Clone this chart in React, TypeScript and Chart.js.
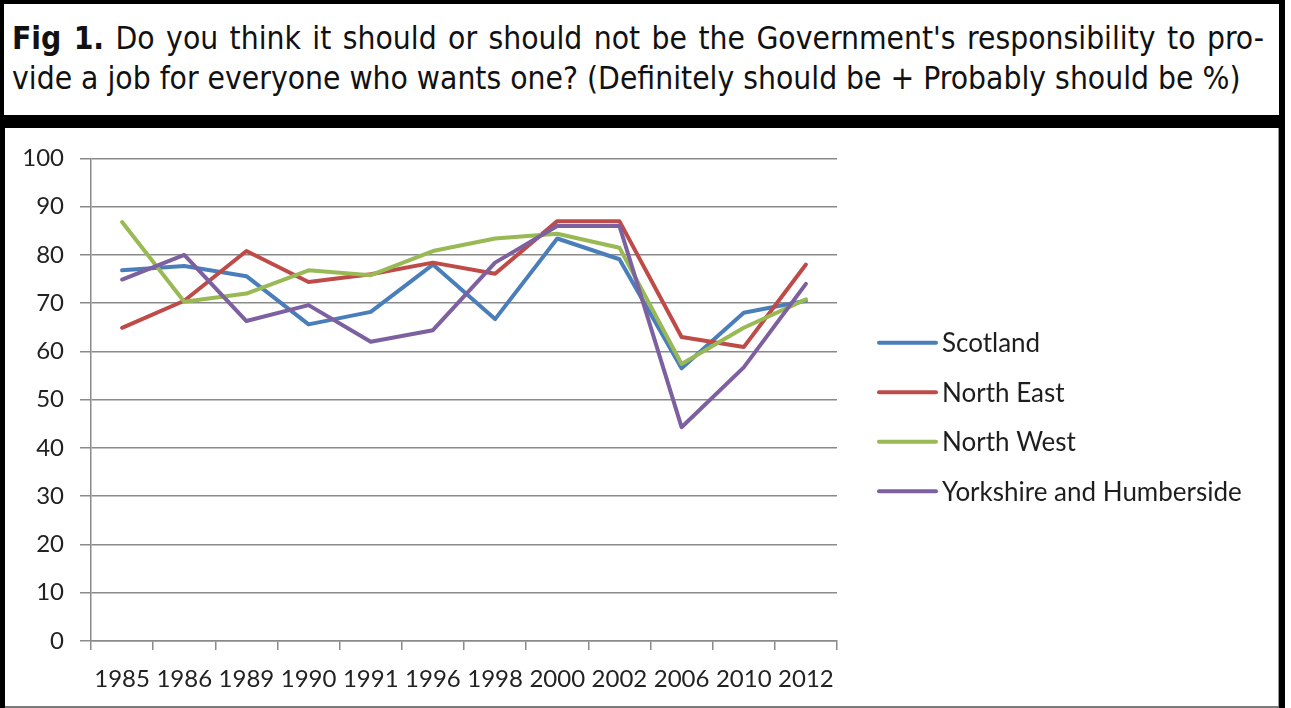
import React, { useEffect, useRef } from "react";
import { Chart, registerables } from "chart.js";

Chart.register(...registerables);

const categories = ["1985", "1986", "1989", "1990", "1991", "1996", "1998", "2000", "2002", "2006", "2010", "2012"];
const scotland = [76.8, 77.7, 75.6, 65.6, 68.2, 78.0, 66.7, 83.4, 79.1, 56.5, 68.0, 70.5];
const northEast = [64.9, 70.5, 80.8, 74.4, 76.0, 78.4, 76.1, 87.0, 87.0, 63.0, 60.9, 78.0];
const northWest = [86.8, 70.3, 72.0, 76.8, 75.8, 80.8, 83.4, 84.4, 81.5, 57.4, 64.9, 70.8];
const yorkshire = [74.9, 80.0, 66.3, 69.6, 62.0, 64.4, 78.4, 86.0, 86.0, 44.3, 56.7, 74.0];
const seriesNames = ["Scotland", "North East", "North West", "Yorkshire and Humberside"];
const seriesColors = ["#4A7EBB", "#BE4B48", "#98B954", "#7D60A0"];
const yTicks = [0, 10, 20, 30, 40, 50, 60, 70, 80, 90, 100];

const titleBold = "Fig 1.";
const titleLine1 = " Do you think it should or should not be the Government's responsibility to pro-";
const titleLine2 = "vide a job for everyone who wants one? (Definitely should be + Probably should be %)";

const AXIS_FONT = "Lato, 'Open Sans', sans-serif";

const legendPlugin = {
  id: "customLegend",
  afterDraw(chart: any) {
    const ctx = chart.ctx;
    const ds = chart.data.datasets;
    const spacing = 49.5;
    const centerY = chart.height / 2;
    const x0 = chart.chartArea.right + 42;
    ctx.save();
    ctx.font = `26px ${AXIS_FONT}`;
    ctx.textBaseline = "middle";
    ctx.textAlign = "left";
    ds.forEach((d: any, i: number) => {
      const y = centerY + (i - (ds.length - 1) / 2) * spacing;
      ctx.strokeStyle = d.borderColor;
      ctx.lineWidth = 4;
      ctx.lineCap = "round";
      ctx.beginPath();
      ctx.moveTo(x0, y);
      ctx.lineTo(x0 + 57, y);
      ctx.stroke();
      ctx.fillStyle = "#1e1e1e";
      ctx.fillText(d.label, x0 + 63, y + 1);
    });
    ctx.restore();
  },
};

function LineChart() {
  const ref = useRef<HTMLCanvasElement | null>(null);
  useEffect(() => {
    if (!ref.current) return;
    const seriesData = [scotland, northEast, northWest, yorkshire];
    const chart = new Chart(ref.current, {
      type: "line",
      data: {
        labels: categories,
        datasets: seriesData.map((d, i) => ({
          label: seriesNames[i],
          data: d,
          borderColor: seriesColors[i],
          backgroundColor: seriesColors[i],
          borderWidth: 4,
          pointRadius: 0,
          tension: 0,
          borderCapStyle: "round",
          borderJoinStyle: "round",
          order: seriesData.length - i,
        })),
      },
      options: {
        animation: false,
        responsive: false,
        maintainAspectRatio: false,
        devicePixelRatio: 1,
        layout: { padding: { top: 29, right: 442, left: 0, bottom: 0 } },
        plugins: {
          legend: { display: false },
          tooltip: { enabled: false },
          title: { display: false },
        },
        scales: {
          x: {
            type: "category",
            offset: true,
            grid: {
              offset: true,
              drawOnChartArea: false,
              drawTicks: true,
              tickLength: 9,
              color: "#8a8a8a",
              lineWidth: 1.5,
            },
            border: { display: true, color: "#8a8a8a", width: 1.5 },
            ticks: {
              autoSkip: false,
              maxRotation: 0,
              minRotation: 0,
              padding: 15,
              color: "#222",
              font: { family: AXIS_FONT, size: 24 },
            },
            afterFit: (s: any) => {
              s.height = 65;
            },
          },
          y: {
            type: "linear",
            min: 0,
            max: 100,
            afterBuildTicks: (s: any) => {
              s.ticks = yTicks.map((v) => ({ value: v }));
            },
            grid: {
              color: "#8a8a8a",
              lineWidth: 1.5,
              drawTicks: true,
              tickLength: 11,
            },
            border: { display: true, color: "#8a8a8a", width: 1.5 },
            ticks: {
              padding: 16,
              color: "#222",
              font: { family: AXIS_FONT, size: 24 },
            },
            afterFit: (s: any) => {
              s.width = 86;
            },
          },
        },
      },
      plugins: [legendPlugin],
    });
    return () => chart.destroy();
  }, []);
  return <canvas ref={ref} width={1274} height={578} style={{ position: "absolute", left: 5, top: 128, width: 1274, height: 578 }} />;
}

export default function App() {
  const titleFont = "'DejaVu Sans Condensed', 'DejaVu Sans', sans-serif";
  return (
    <div style={{ position: "absolute", left: 0, top: 0, width: 1291, height: 708, background: "#fff", overflow: "hidden" }}>
      <div
        style={{
          position: "absolute",
          left: 0,
          top: 0,
          width: 1285,
          height: 128,
          boxSizing: "border-box",
          borderStyle: "solid",
          borderColor: "#000",
          borderWidth: "4px 6px 13px 4px",
        }}
      />
      <div
        style={{
          position: "absolute",
          left: 12,
          top: 18,
          width: 1252,
          fontFamily: titleFont,
          fontSize: 31.5,
          lineHeight: "40px",
          color: "#111",
          textAlign: "justify",
          textAlignLast: "justify" as any,
          whiteSpace: "nowrap",
        }}
      >
        <b>{titleBold}</b>
        {titleLine1}
      </div>
      <div
        style={{
          position: "absolute",
          left: 12,
          top: 58,
          fontFamily: titleFont,
          fontSize: 31.5,
          lineHeight: "40px",
          color: "#111",
          whiteSpace: "nowrap",
        }}
      >
        {titleLine2}
      </div>
      <div
        style={{
          position: "absolute",
          left: 0,
          top: 128,
          width: 1285,
          height: 580,
          boxSizing: "border-box",
          borderLeft: "5px solid #000",
          borderRight: "6px solid #000",
        }}
      />
      <div style={{ position: "absolute", left: 5, top: 706, width: 1274, height: 2, background: "#7a7a7a" }} />
      <div style={{ position: "absolute", left: 1278, top: 128, width: 1, height: 578, background: "#9a9a9a" }} />
      <LineChart />
    </div>
  );
}
